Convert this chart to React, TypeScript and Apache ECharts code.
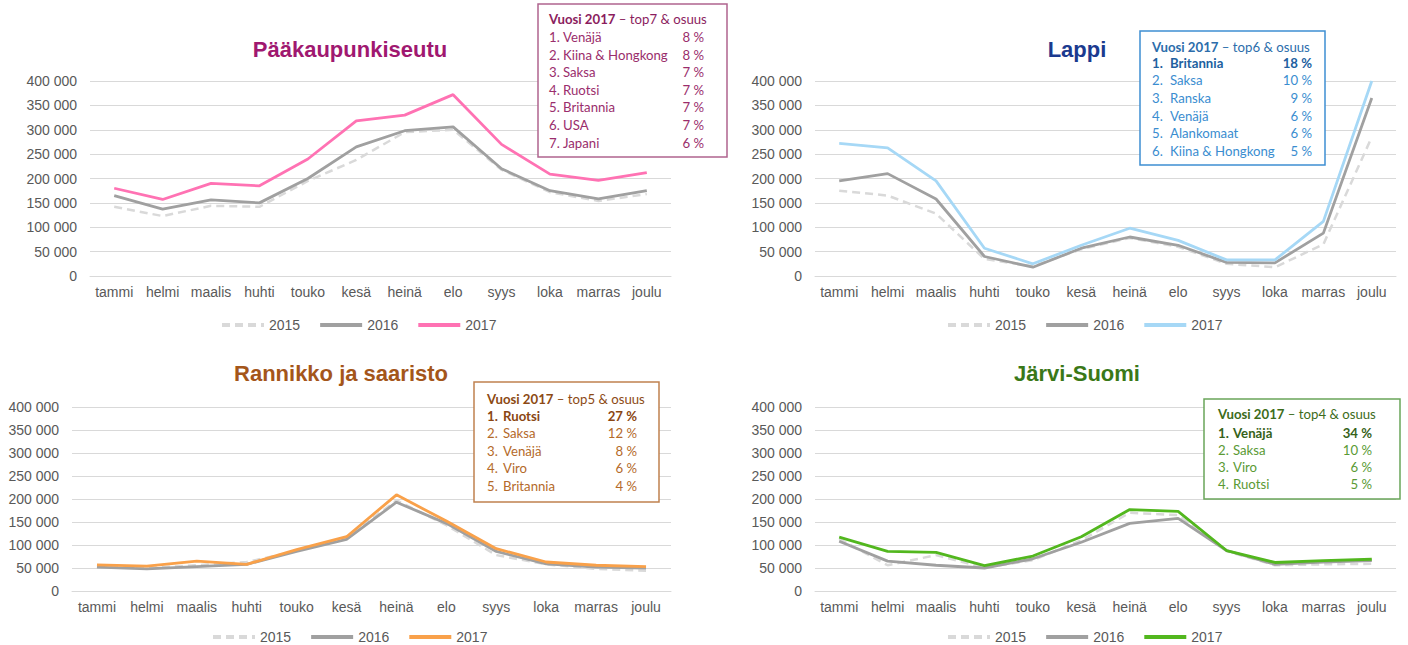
import React, { useEffect, useRef } from 'react';
import * as echarts from 'echarts';

const months = ['tammi', 'helmi', 'maalis', 'huhti', 'touko', 'kesä', 'heinä', 'elo', 'syys', 'loka', 'marras', 'joulu'];
const years = ['2015', '2016', '2017'];

const pk2015 = [142000, 123000, 144000, 142000, 195000, 238000, 295000, 300000, 218000, 172000, 154000, 168000];
const pk2016 = [165000, 137000, 156000, 150000, 200000, 265000, 298000, 306000, 220000, 175000, 158000, 175000];
const pk2017 = [180000, 157000, 190000, 185000, 240000, 318000, 330000, 372000, 270000, 209000, 196000, 212000];

const lp2015 = [175000, 165000, 128000, 35000, 20000, 55000, 78000, 60000, 25000, 18000, 65000, 285000];
const lp2016 = [195000, 210000, 158000, 40000, 18000, 57000, 80000, 63000, 28000, 27000, 88000, 365000];
const lp2017 = [272000, 263000, 195000, 57000, 25000, 63000, 98000, 73000, 33000, 33000, 112000, 400000];

const rs2015 = [53000, 50000, 56000, 63000, 87000, 116000, 197000, 143000, 78000, 58000, 48000, 44000];
const rs2016 = [52000, 48000, 53000, 58000, 86000, 112000, 193000, 147000, 86000, 59000, 52000, 50000];
const rs2017 = [57000, 54000, 65000, 58000, 90000, 118000, 209000, 152000, 92000, 63000, 56000, 53000];

const js2015 = [113000, 56000, 78000, 51000, 67000, 110000, 170000, 165000, 87000, 56000, 58000, 59000];
const js2016 = [108000, 65000, 56000, 50000, 70000, 106000, 147000, 158000, 88000, 58000, 63000, 66000];
const js2017 = [117000, 86000, 84000, 55000, 76000, 118000, 177000, 173000, 88000, 62000, 66000, 69000];

const pkTop = [['Venäjä', '8 %'], ['Kiina & Hongkong', '8 %'], ['Saksa', '7 %'], ['Ruotsi', '7 %'], ['Britannia', '7 %'], ['USA', '7 %'], ['Japani', '6 %']];
const lpTop = [['Britannia', '18 %'], ['Saksa', '10 %'], ['Ranska', '9 %'], ['Venäjä', '6 %'], ['Alankomaat', '6 %'], ['Kiina & Hongkong', '5 %']];
const rsTop = [['Ruotsi', '27 %'], ['Saksa', '12 %'], ['Venäjä', '8 %'], ['Viro', '6 %'], ['Britannia', '4 %']];
const jsTop = [['Venäjä', '34 %'], ['Saksa', '10 %'], ['Viro', '6 %'], ['Ruotsi', '5 %']];

const FONT = '"Liberation Sans", Arial, sans-serif';
const BOXFONT = 'Lato, "Open Sans", sans-serif';
const BOXSIZE = 13.2;
const AXIS_TEXT = '#595959';
const GRID_LINE = '#d9d9d9';

const panels = [
  {
    id: 'pk', title: 'Pääkaupunkiseutu', titleColor: '#a01870', color: '#ff72b3',
    grid: { left: 90, top: 81, width: 581, height: 195 }, titleX: 350, titleY: 49,
    legendLeft: 215, legendTop: 313, data: [pk2015, pk2016, pk2017],
    box: { x: 538, y: 4, w: 189, h: 153, textX: 549, nameX: 563, pctX: 704, titleY: 19, rowY: 37, step: 17.6,
      border: '#b0648f', titleFill: '#8b1d5e', fill: '#9a2d6c', boldFirst: false, top: 'top7', rows: pkTop },
  },
  {
    id: 'lp', title: 'Lappi', titleColor: '#1b3a8f', color: '#a6d8f6',
    grid: { left: 815, top: 81, width: 581, height: 195 }, titleX: 1077, titleY: 49,
    legendLeft: 941, legendTop: 313, data: [lp2015, lp2016, lp2017],
    box: { x: 1140, y: 31, w: 185, h: 134, textX: 1152, nameX: 1170, pctX: 1312, titleY: 46.5, rowY: 62.5, step: 17.7,
      border: '#3e8fd2', titleFill: '#2c6dab', fill: '#3a8dd0', boldFirst: true, boldFill: '#215f9f', top: 'top6', rows: lpTop },
  },
  {
    id: 'rs', title: 'Rannikko ja saaristo', titleColor: '#a4561a', color: '#f9a14a',
    grid: { left: 72, top: 407, width: 599, height: 184 }, titleX: 341, titleY: 373,
    legendLeft: 206, legendTop: 625, data: [rs2015, rs2016, rs2017],
    box: { x: 474, y: 382, w: 185, h: 120, textX: 487, nameX: 503, pctX: 637, titleY: 399, rowY: 415.7, step: 17.5,
      border: '#c0814f', titleFill: '#8c4a14', fill: '#b46a2a', boldFirst: true, boldFill: '#8a4612', top: 'top5', rows: rsTop },
  },
  {
    id: 'js', title: 'Järvi-Suomi', titleColor: '#3a7818', color: '#52b71e',
    grid: { left: 815, top: 407, width: 581, height: 184 }, titleX: 1077, titleY: 373,
    legendLeft: 941, legendTop: 625, data: [js2015, js2016, js2017],
    box: { x: 1204, y: 399, w: 196, h: 100, textX: 1218, nameX: 1233, pctX: 1372, titleY: 414.3, rowY: 432.5, step: 17.3,
      border: '#6aa55a', titleFill: '#3d6c1a', fill: '#5a9a34', boldFirst: true, boldFill: '#36621a', top: 'top4', rows: jsTop },
  },
];

const fmtThousands = (v: number) => String(v).replace(/\B(?=(\d{3})+(?!\d))/g, ' ');

function buildOption() {
  const grid: any[] = [];
  const xAxis: any[] = [];
  const yAxis: any[] = [];
  const series: any[] = [];
  const legend: any[] = [];
  const graphic: any[] = [];

  panels.forEach((p, i) => {
    grid.push({ ...p.grid, containLabel: false });
    xAxis.push({
      type: 'category', gridIndex: i, data: months, boundaryGap: true,
      axisTick: { show: false },
      axisLine: { lineStyle: { color: GRID_LINE, width: 1 } },
      axisLabel: { color: AXIS_TEXT, fontSize: 14, fontFamily: FONT, margin: 9, interval: 0 },
    });
    yAxis.push({
      type: 'value', gridIndex: i, min: 0, max: 400000, interval: 50000,
      axisLine: { show: false }, axisTick: { show: false },
      splitLine: { lineStyle: { color: GRID_LINE, width: 1 } },
      axisLabel: { color: AXIS_TEXT, fontSize: 14, fontFamily: FONT, margin: 13, formatter: fmtThousands },
    });
    const styles = [
      { color: '#d9d9d9', width: 2.5, type: [8, 5] },
      { color: '#a0a0a0', width: 2.8, type: 'solid' },
      { color: p.color, width: 2.8, type: 'solid' },
    ];
    years.forEach((y, k) => {
      series.push({
        type: 'line', name: `${p.id}-${y}`, xAxisIndex: i, yAxisIndex: i,
        data: p.data[k], symbol: 'none', showSymbol: false, smooth: false,
        lineStyle: styles[k], itemStyle: { color: styles[k].color }, z: 2 + k,
      });
    });
    legend.push({
      left: p.legendLeft, top: p.legendTop, itemWidth: 42, itemHeight: 14, itemGap: 18,
      selectedMode: false,
      itemStyle: { opacity: 0, borderWidth: 0 },
      lineStyle: { width: 4 },
      data: years.map((y) => `${p.id}-${y}`),
      formatter: (n: string) => n.split('-')[1],
      textStyle: { color: AXIS_TEXT, fontSize: 14, fontFamily: FONT },
    });
    graphic.push({
      type: 'text', x: p.titleX, y: p.titleY, z: 10,
      style: { text: p.title, fill: p.titleColor, fontSize: 22, fontWeight: 'bold', fontFamily: FONT, align: 'center', verticalAlign: 'middle' },
    });
    const b: any = p.box;
    graphic.push({
      type: 'rect', z: 10,
      shape: { x: b.x, y: b.y, width: b.w, height: b.h },
      style: { fill: '#ffffff', stroke: b.border, lineWidth: 1.5 },
    });
    graphic.push({
      type: 'text', x: b.textX, y: b.titleY, z: 11,
      style: {
        text: `{b|Vuosi 2017}{n| – ${b.top} & osuus}`,
        fill: b.titleFill, fontSize: BOXSIZE, fontFamily: BOXFONT, verticalAlign: 'middle', align: 'left',
        rich: {
          b: { fontWeight: 'bold', fill: b.titleFill, fontSize: BOXSIZE, fontFamily: BOXFONT },
          n: { fill: b.titleFill, fontSize: BOXSIZE, fontFamily: BOXFONT },
        },
      },
    });
    b.rows.forEach((r: string[], j: number) => {
      const bold = b.boldFirst && j === 0;
      const fill = bold ? b.boldFill : b.fill;
      const yy = b.rowY + j * b.step;
      const common = { fill, fontSize: BOXSIZE, fontFamily: BOXFONT, fontWeight: bold ? 'bold' : 'normal', verticalAlign: 'middle' };
      graphic.push({ type: 'text', x: b.textX, y: yy, z: 11, style: { ...common, text: `${j + 1}.`, align: 'left' } });
      graphic.push({ type: 'text', x: b.nameX, y: yy, z: 11, style: { ...common, text: r[0], align: 'left' } });
      graphic.push({ type: 'text', x: b.pctX, y: yy, z: 11, style: { ...common, text: r[1], align: 'right' } });
    });
  });

  return {
    animation: false,
    backgroundColor: '#ffffff',
    grid, xAxis, yAxis, series, legend, graphic,
  };
}

export default function App() {
  const ref = useRef<HTMLDivElement>(null);
  useEffect(() => {
    if (!ref.current) return;
    const chart = echarts.init(ref.current, undefined, { renderer: 'svg' });
    chart.setOption(buildOption() as any);
    return () => chart.dispose();
  }, []);
  return (
    <div
      ref={ref}
      style={{ position: 'absolute', left: 0, top: 0, width: 1408, height: 645, background: '#fff' }}
    />
  );
}
